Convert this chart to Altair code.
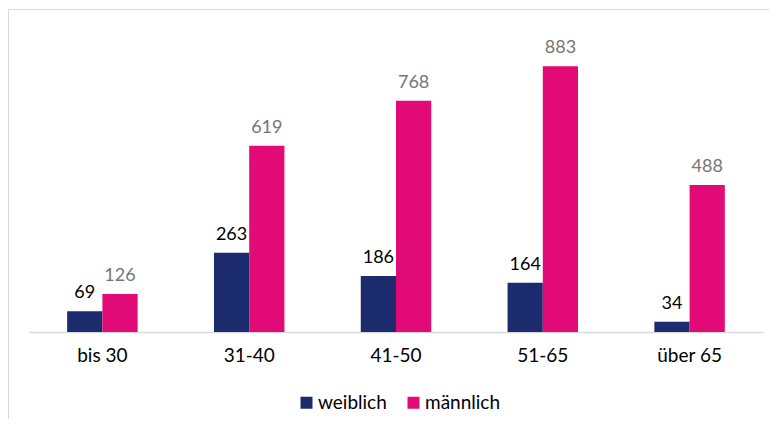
import altair as alt
import pandas as pd

categories = ["bis 30", "31-40", "41-50", "51-65", "über 65"]
groups = ["weiblich", "männlich"]
weiblich = [69, 263, 186, 164, 34]
maennlich = [126, 619, 768, 883, 488]

bar_colors = ["#1C2B6D", "#E20A76"]
label_colors = ["#000000", "#767676"]
FONT = "Lato"

rows = []
for c, w, m in zip(categories, weiblich, maennlich):
    rows.append({"cat": c, "g": groups[0], "v": w, "tc": label_colors[0]})
    rows.append({"cat": c, "g": groups[1], "v": m, "tc": label_colors[1]})
df = pd.DataFrame(rows)

x_enc = alt.X(
    "cat:N",
    sort=categories,
    title=None,
    scale=alt.Scale(paddingInner=0.52, paddingOuter=0.26),
    axis=alt.Axis(
        domainColor="#d9d9d9",
        domainWidth=1.5,
        ticks=False,
        labelAngle=0,
        labelFont=FONT,
        labelFontSize=19,
        labelColor="#000000",
        labelPadding=14,
        grid=False,
    ),
)
xoff = alt.XOffset("g:N", sort=groups)
y_enc = alt.Y("v:Q", axis=None, scale=alt.Scale(domain=[0, 1000]))

base = alt.Chart(df)

bars = base.mark_bar().encode(
    x=x_enc,
    xOffset=xoff,
    y=y_enc,
    color=alt.Color(
        "g:N",
        sort=groups,
        scale=alt.Scale(domain=groups, range=bar_colors),
        legend=alt.Legend(
            title=None,
            orient="none",
            direction="horizontal",
            legendX=268,
            legendY=362,
            symbolType="square",
            symbolSize=144,
            symbolStrokeWidth=0,
            labelFont=FONT,
            labelFontSize=19,
            labelColor="#000000",
            labelOffset=2,
            columnPadding=17,
            padding=0,
        ),
    ),
)

labels = base.mark_text(
    font=FONT, fontSize=18, baseline="alphabetic", align="center", dy=-13
).encode(
    x=x_enc,
    xOffset=xoff,
    y=y_enc,
    text=alt.Text("v:Q"),
    color=alt.Color("tc:N", scale=None),
)

frame = alt.Chart(pd.DataFrame({"a": [0]})).mark_rect(
    fillOpacity=0, stroke="#d9d9d9", strokeWidth=1
).encode(
    x=alt.value(-20.5),
    x2=alt.value(900),
    y=alt.value(-21.5),
    y2=alt.value(600),
)

chart = (
    alt.layer(frame, bars, labels)
    .resolve_scale(color="independent")
    .properties(
        width=734,
        height=301,
        autosize=alt.AutoSizeParams(type="none"),
        padding={"left": 21, "top": 23, "right": 6, "bottom": 87},
        background="white",
    )
    .configure_view(strokeWidth=0)
)

chart.save("out.html", embed_options={"renderer": "svg", "actions": False})
